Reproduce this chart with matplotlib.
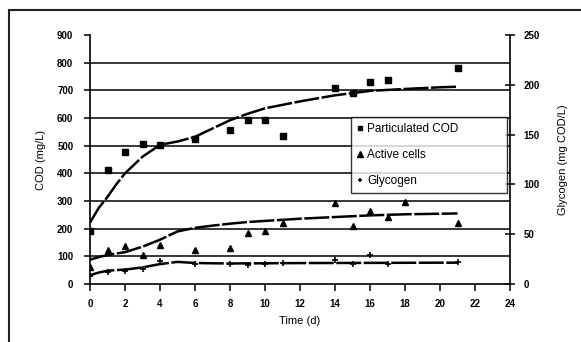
import matplotlib
matplotlib.use("Agg")
import matplotlib.pyplot as plt
import matplotlib.patches as patches

plt.rcParams['font.family'] = ['Liberation Sans', 'DejaVu Sans']

# Measured data
cod_t = [0, 1, 2, 3, 4, 6, 8, 9, 10, 11, 14, 15, 16, 17, 21]
cod_val = [190, 412, 476, 506, 502, 523, 558, 594, 592, 536, 707, 691, 731, 737, 780]

cells_t = [0, 1, 2, 3, 4, 6, 8, 9, 10, 11, 14, 15, 16, 17, 18, 21]
cells_val = [62, 123, 137, 105, 141, 123, 129, 183, 191, 219, 292, 211, 263, 243, 297, 219]

glyc_t = [0, 1, 2, 3, 4, 6, 8, 9, 10, 11, 14, 15, 16, 17, 21]
glyc_val = [8, 12, 13, 15, 23, 20, 20, 19, 20, 21, 24, 20, 29, 20, 22]

# Model curves
fit_t = [0, 0.5, 1, 1.5, 2, 3, 4, 5, 6, 7, 8, 9, 10, 12, 14, 16, 18, 20, 21]
cod_fit = [222, 275, 315, 360, 400, 460, 503, 515, 532, 562, 592, 615, 635, 660, 682, 698, 705, 711, 713]
cells_fit = [88, 97, 105, 110, 115, 135, 160, 190, 203, 211, 218, 224, 228, 236, 242, 248, 252, 254, 255]
glyc_fit = [8.9, 11.5, 13.3, 14.0, 14.4, 16.7, 20.0, 22.2, 21.1, 20.8, 20.6, 20.7, 20.8, 21.0, 21.1, 21.2, 21.3, 21.4, 21.4]

fig = plt.figure(figsize=(5.81, 3.42), dpi=100)
ax = fig.add_axes([90 / 581, 1 - 284 / 342, 420 / 581, 249 / 342])
ax2 = ax.twinx()

# outer chart border (cut by the picture edge on right and bottom)
fig.patches.append(patches.Rectangle((9 / 581, -0.1), 1.2, 1.1 - 10 / 342,
                                     transform=fig.transFigure, fill=False,
                                     edgecolor='#222222', linewidth=1.5))

ls = (0, (10, 1))
ax.plot(fit_t, cod_fit, color='black', linewidth=1.8, linestyle=ls)
ax.plot(fit_t, cells_fit, color='black', linewidth=1.8, linestyle=ls)
ax2.plot(fit_t, glyc_fit, color='black', linewidth=1.8, linestyle=ls)

h1, = ax.plot(cod_t, cod_val, linestyle='none', marker='s', markersize=4,
              color='black', label='Particulated COD')
h2, = ax.plot(cells_t, cells_val, linestyle='none', marker='^', markersize=5,
              color='black', label='Active cells')
h3, = ax2.plot(glyc_t, glyc_val, linestyle='none', marker='+', markersize=4,
               markeredgewidth=1.2, color='black', label='Glycogen')

ax.set_xlim(0, 24)
ax.set_ylim(0, 900)
ax2.set_ylim(0, 250)
ax.set_xticks(range(0, 25, 2))
ax.set_yticks(range(0, 901, 100))
ax2.set_yticks(range(0, 251, 50))

for y in range(100, 900, 100):
    ax.axhline(y, color='black', linewidth=1.1, zorder=0)

for a in (ax, ax2):
    a.spines['top'].set_visible(False)
    for s in a.spines.values():
        s.set_linewidth(1.2)
ax.spines['right'].set_visible(False)
ax2.spines['left'].set_visible(False)
ax2.spines['bottom'].set_visible(False)

ax.tick_params(axis='y', direction='out', length=4, width=1.1, labelsize=7, pad=8)
ax.tick_params(axis='x', direction='out', length=5, width=1.1, labelsize=7, pad=6)
ax2.tick_params(axis='y', direction='inout', length=7, width=1.1, labelsize=7, pad=6)
for lab in ax.get_xticklabels() + ax.get_yticklabels() + ax2.get_yticklabels():
    lab.set_fontweight('bold')

ax.set_xlabel('Time (d)', fontsize=8, labelpad=5)
ax.set_ylabel('COD (mg/L)', fontsize=8, labelpad=8)
ax2.set_ylabel('Glycogen (mg COD/L)', fontsize=8, labelpad=13)

leg = ax2.legend(handles=[h1, h2, h3], loc='lower left',
                 bbox_to_anchor=(0.621, 0.365, 0.372, 0.302), mode='expand',
                 fontsize=8.5, frameon=True, fancybox=False, handlelength=0.5,
                 handletextpad=0.4, labelspacing=1.2, borderpad=0.5,
                 borderaxespad=0, markerscale=0.8)
leg.get_frame().set_edgecolor('black')
leg.get_frame().set_linewidth(1.0)

fig.savefig('out.png', dpi=100)
